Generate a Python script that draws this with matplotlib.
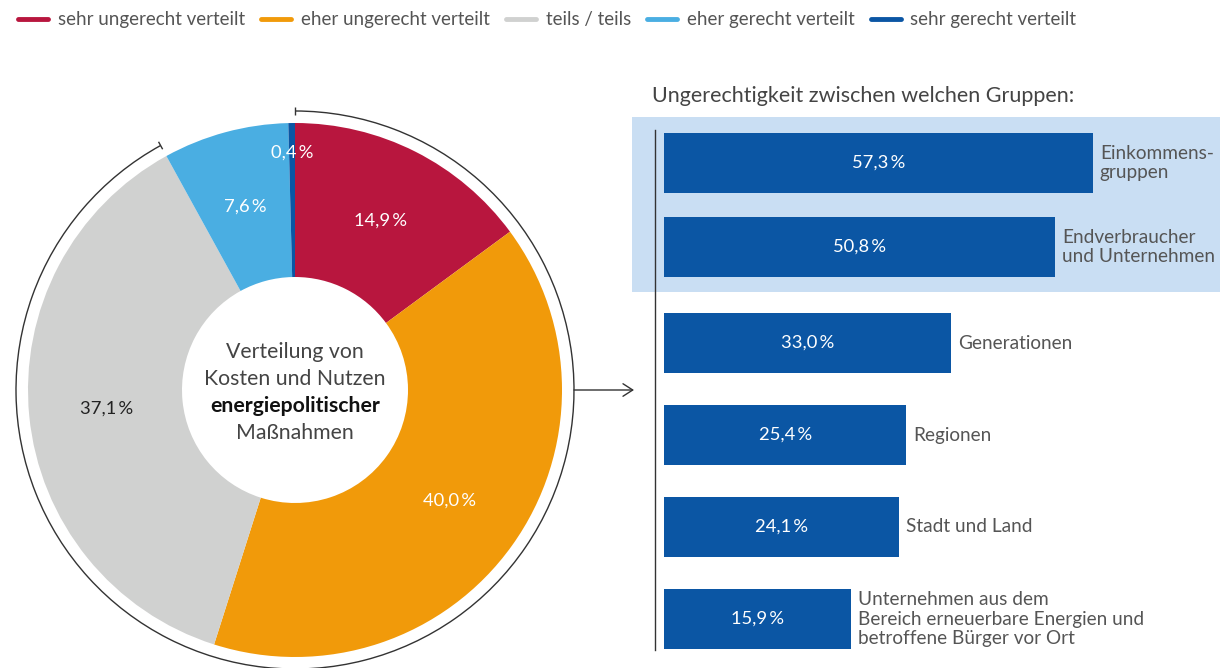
import matplotlib.pyplot as plt
import numpy as np
from matplotlib.lines import Line2D
from matplotlib.patches import Arc

plt.rcParams['font.family'] = ['Lato', 'DejaVu Sans']

# donut: rating of how costs and benefits are distributed
answers = ['sehr ungerecht verteilt', 'eher ungerecht verteilt', 'teils / teils',
           'eher gerecht verteilt', 'sehr gerecht verteilt']
shares = [14.9, 40.0, 37.1, 7.6, 0.4]
colors = ['#b8163e', '#f19a0a', '#d0d1d0', '#4aaee2', '#0b56a4']

# bars: between which groups the injustice is seen
groups = ['Einkommens-\ngruppen', 'Endverbraucher\nund Unternehmen', 'Generationen',
          'Regionen', 'Stadt und Land',
          'Unternehmen aus dem\nBereich erneuerbare Energien und\nbetroffene Bürger vor Ort']
group_vals = [57.3, 50.8, 33.0, 25.4, 24.1, 15.9]

def pct(v):
    return f'{v:.1f}'.replace('.', ',') + '\u2009%'

W, H = 1220, 668
fig = plt.figure(figsize=(W / 100, H / 100), dpi=100)

# ---- donut ----
R = 267  # outer radius in px
cx, cy = 295, 390
half = 1.15 * R
ax = fig.add_axes([(cx - half) / W, (H - cy - half) / H, 2 * half / W, 2 * half / H])

ax.pie(shares, colors=colors, startangle=90, counterclock=False, radius=1,
       wedgeprops=dict(width=1 - 113 / R, linewidth=0))
ax.set_xlim(-1.15, 1.15)
ax.set_ylim(-1.15, 1.15)
ax.axis('off')

cum = np.cumsum([0] + shares)
for i, v in enumerate(shares):
    mid = np.deg2rad(90 - (cum[i] + v / 2) * 3.6)
    r = 0.888 if v < 2 else 0.71
    ax.text(r * np.cos(mid), r * np.sin(mid), pct(v), ha='center', va='center',
            fontsize=13.2, color='#222222' if i == 2 else 'white')

center_lines = ['Verteilung von', 'Kosten und Nutzen', 'energiepolitischer', 'Maßnahmen']
for k, line in enumerate(center_lines):
    ax.text(0, 0.142 - k * 0.101, line, ha='center', va='center', fontsize=15.3,
            color='#111111' if k == 2 else '#444444',
            fontweight='bold' if k == 2 else 'normal')

# bracket around the not-fair + neutral share
r_arc = 279 / R
span = sum(shares[:3]) * 3.6
ax.add_patch(Arc((0, 0), 2 * r_arc, 2 * r_arc, theta1=90 - span, theta2=90,
                 color='#333333', lw=1))
for a in (90, 90 - span):
    t = np.deg2rad(a)
    ax.plot([(r_arc - 0.016) * np.cos(t), (r_arc + 0.016) * np.cos(t)],
            [(r_arc - 0.016) * np.sin(t), (r_arc + 0.016) * np.sin(t)],
            color='#333333', lw=1, solid_capstyle='butt')
ax.annotate('', xy=((634 - cx) / R, 0), xytext=(r_arc, 0), annotation_clip=False,
            arrowprops=dict(arrowstyle='->,head_length=0.7,head_width=0.45',
                            color='#333333', lw=1, shrinkA=0, shrinkB=0))

# ---- bars ----
px = 5.845          # px per percent
x0 = 758            # px position of 0 %
bar_left = 664
ypos = np.array([0, 84, 180, 272, 364, 456])
bx = fig.add_axes([632 / W, (H - 655) / H, (W - 632) / W, (655 - 117) / H])
bx.set_xlim((632 - x0) / px, (W - x0) / px)
bx.set_ylim(655 - 163, 117 - 163)
bx.axis('off')

bx.axhspan(117 - 163, 292 - 163, color='#c9def3', lw=0, zorder=0)
bx.plot([(655 - x0) / px] * 2, [130 - 163, 650 - 163], color='#333333', lw=1, zorder=1)

left = (bar_left - x0) / px
vals = np.array(group_vals)
bx.barh(ypos, vals - left, left=left, height=60, color='#0b56a4', zorder=2)
for y, v, g in zip(ypos, vals, groups):
    bx.text((left + v) / 2, y, pct(v), ha='center', va='center', color='white',
            fontsize=13.2, zorder=3)
    bx.annotate(g, (v, y), xytext=(5, 0), textcoords='offset points', ha='left',
                va='center', fontsize=13.7, color='#555555', linespacing=1.15)

fig.text(652 / W, 1 - 96 / H, 'Ungerechtigkeit zwischen welchen Gruppen:',
         ha='left', va='center', fontsize=15.5, color='#444444')

# ---- legend ----
handles = [Line2D([], [], color=c, lw=3.5, solid_capstyle='round') for c in colors]
fig.legend(handles, answers, loc='center left', bbox_to_anchor=(18 / W, 1 - 20 / H),
           ncol=5, frameon=False, fontsize=13.5, labelcolor='#555555',
           handlelength=1.6, handletextpad=0.53, columnspacing=0.85,
           borderpad=0, borderaxespad=0)

fig.savefig('out.png', dpi=100)
